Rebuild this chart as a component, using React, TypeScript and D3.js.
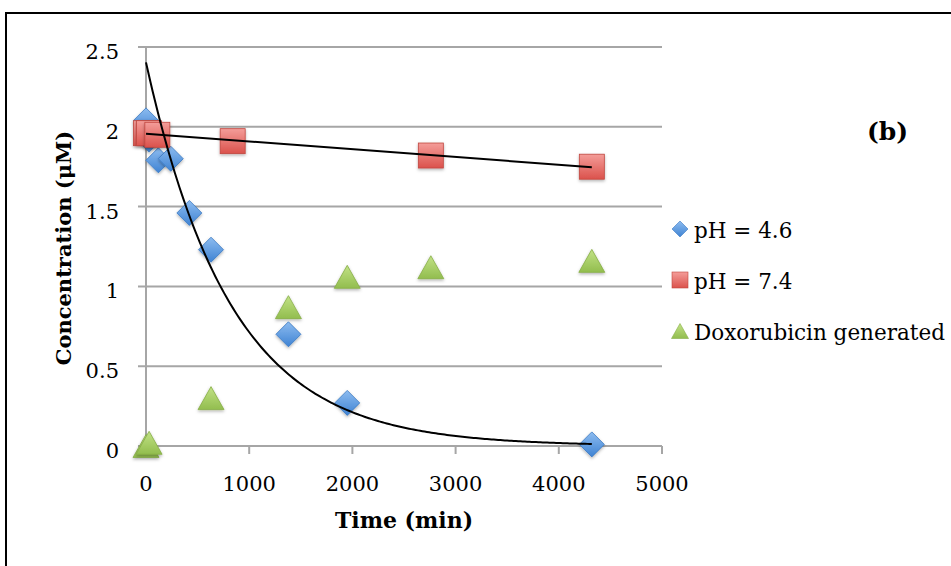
import React from "react";
import * as d3 from "d3";

const acidTime = [0, 30, 120, 240, 420, 630, 1380, 1950, 4320];
const acidConc = [2.04, 1.92, 1.79, 1.8, 1.46, 1.23, 0.7, 0.27, 0.01];
const neutralTime = [0, 30, 110, 840, 2760, 4320];
const neutralConc = [1.96, 1.96, 1.95, 1.91, 1.82, 1.75];
const doxTime = [0, 30, 630, 1380, 1950, 2760, 4320];
const doxConc = [0.0, 0.02, 0.3, 0.87, 1.06, 1.12, 1.16];
const xTicks = [0, 1000, 2000, 3000, 4000, 5000];
const yTicks = [0, 0.5, 1, 1.5, 2, 2.5];
const legendLabels = ["pH = 4.6", "pH = 7.4", "Doxorubicin generated"];

const W = 951;
const H = 566;
const FONT = "'DejaVu Serif', serif";

function expFit(ts: number[], ys: number[]) {
  const ls = ys.map((v) => Math.log(v));
  const mt = d3.mean(ts)!;
  const ml = d3.mean(ls)!;
  let sxy = 0, sxx = 0;
  ts.forEach((t, i) => {
    sxy += (t - mt) * (ls[i] - ml);
    sxx += (t - mt) * (t - mt);
  });
  const k = sxy / sxx;
  const a = Math.exp(ml - k * mt);
  return (t: number) => a * Math.exp(k * t);
}

function linFit(ts: number[], ys: number[]) {
  const mt = d3.mean(ts)!;
  const my = d3.mean(ys)!;
  let sxy = 0, sxx = 0;
  ts.forEach((t, i) => {
    sxy += (t - mt) * (ys[i] - my);
    sxx += (t - mt) * (t - mt);
  });
  const m = sxy / sxx;
  const b = my - m * mt;
  return (t: number) => b + m * t;
}

export default function App() {
  const x = d3.scaleLinear().domain([0, 5000]).range([146, 662]);
  const y = d3.scaleLinear().domain([0, 2.5]).range([446, 47]);

  const fA = expFit(acidTime, acidConc);
  const fN = linFit(neutralTime, neutralConc);
  const tMax = d3.max(acidTime)!;
  const samples = d3.range(0, 201).map((i) => (i / 200) * tMax);
  const line = d3
    .line<number>()
    .x((t) => x(t))
    .y((t) => y(fA(t)));
  const nLine = d3.line<number>().x((t) => x(t)).y((t) => y(fN(t)));
  const nT = [d3.min(neutralTime)!, d3.max(neutralTime)!];

  const diamond = (cx: number, cy: number, r: number) =>
    `M${cx},${cy - r}L${cx + r},${cy}L${cx},${cy + r}L${cx - r},${cy}Z`;
  const tri = (cx: number, cy: number, w: number, h: number) =>
    `M${cx},${cy - h / 2}L${cx + w / 2},${cy + h / 2}L${cx - w / 2},${cy + h / 2}Z`;

  return (
    <svg
      width={W}
      height={H}
      style={{ position: "absolute", left: 0, top: 0, background: "#fff" }}
      fontFamily={FONT}
    >
      <defs>
        <linearGradient id="gb" x1="0" y1="0" x2="0" y2="1">
          <stop offset="0" stopColor="#8dbcf0" />
          <stop offset="1" stopColor="#3f83d3" />
        </linearGradient>
        <linearGradient id="gr" x1="0" y1="0" x2="0" y2="1">
          <stop offset="0" stopColor="#f49d99" />
          <stop offset="1" stopColor="#db524c" />
        </linearGradient>
        <linearGradient id="gg" x1="0" y1="0" x2="0" y2="1">
          <stop offset="0" stopColor="#c2e286" />
          <stop offset="1" stopColor="#92bd4e" />
        </linearGradient>
        <filter id="sh" x="-50%" y="-50%" width="200%" height="200%">
          <feDropShadow dx="0" dy="1.5" stdDeviation="1.5" floodColor="#000" floodOpacity="0.3" />
        </filter>
      </defs>
      <rect x={0} y={0} width={W} height={H} fill="#fff" />
      <rect x={6} y={13} width={1000} height={700} fill="none" stroke="#000" strokeWidth={2} />

      {yTicks.map((v) => (
        <g key={"g" + v}>
          <line x1={138} x2={x(5000)} y1={y(v)} y2={y(v)} stroke="#a6a6a6" strokeWidth={2} />
          <text x={119} y={y(v) + 12} textAnchor="end" fontSize={21} fill="#000">
            {String(v)}
          </text>
        </g>
      ))}
      <line x1={x(0)} x2={x(0)} y1={y(2.5)} y2={y(0)} stroke="#a6a6a6" strokeWidth={2} />
      {xTicks.map((v) => (
        <g key={"x" + v}>
          <line x1={x(v)} x2={x(v)} y1={y(0)} y2={y(0) + 8} stroke="#a6a6a6" strokeWidth={2} />
          <text x={x(v)} y={491} textAnchor="middle" fontSize={21} fill="#000">
            {String(v)}
          </text>
        </g>
      ))}

      <text
        transform={`translate(71,248) rotate(-90)`}
        textAnchor="middle"
        fontSize={21}
        fontWeight="bold"
      >
        Concentration (μM)
      </text>
      <text x={404} y={528} textAnchor="middle" fontSize={22} fontWeight="bold">
        Time (min)
      </text>

      {doxTime.map((t, i) => (
        <path
          key={"d" + i}
          d={tri(x(t), y(doxConc[i]), 26, 23)}
          fill="url(#gg)"
          stroke="#86ad46"
          strokeWidth={0.8}
          filter="url(#sh)"
        />
      ))}
      {acidTime.map((t, i) => (
        <path
          key={"a" + i}
          d={diamond(x(t), y(acidConc[i]), 12.5)}
          fill="url(#gb)"
          stroke="#3a78c2"
          strokeWidth={0.8}
          filter="url(#sh)"
        />
      ))}
      {neutralTime.map((t, i) => (
        <rect
          key={"n" + i}
          x={x(t) - 12.5}
          y={y(neutralConc[i]) - 12.5}
          width={25}
          height={25}
          fill="url(#gr)"
          stroke="#c0463f"
          strokeWidth={0.8}
          filter="url(#sh)"
        />
      ))}

      <path d={line(samples) || ""} fill="none" stroke="#000" strokeWidth={2} />
      <path d={nLine(nT) || ""} fill="none" stroke="#000" strokeWidth={2} />

      {legendLabels.map((lab, i) => {
        const cy = 229 + i * 51;
        const cx = 680;
        let mark;
        if (i === 0)
          mark = <path d={diamond(cx, cy, 8)} fill="url(#gb)" stroke="#3a78c2" strokeWidth={0.6} />;
        else if (i === 1)
          mark = <rect x={cx - 8} y={cy - 8} width={16} height={16} fill="url(#gr)" stroke="#c0463f" strokeWidth={0.6} />;
        else mark = <path d={tri(cx, cy, 17, 15)} fill="url(#gg)" stroke="#86ad46" strokeWidth={0.6} />;
        return (
          <g key={lab}>
            {mark}
            <text x={694} y={cy + 9} fontSize={21.5} fill="#000">
              {lab}
            </text>
          </g>
        );
      })}

      <text x={867} y={140} fontSize={25} fontWeight="bold">
        (b)
      </text>
    </svg>
  );
}
